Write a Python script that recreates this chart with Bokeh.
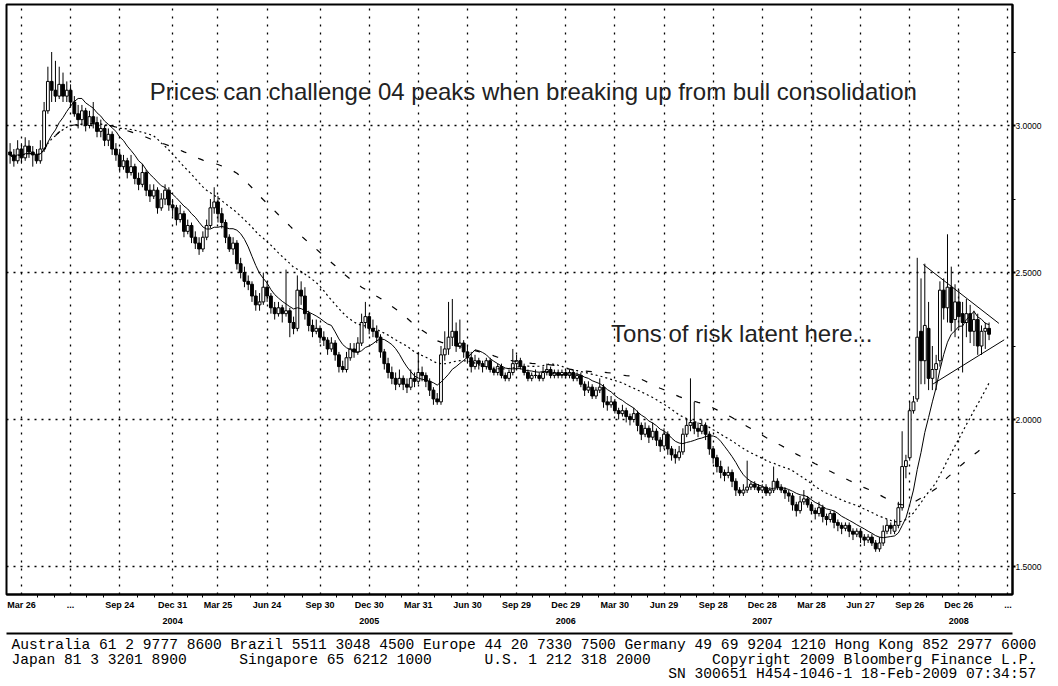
import numpy as np
import pandas as pd
from bokeh.plotting import figure
from bokeh.models import (Range1d, LinearAxis, FixedTicker, Title, Label, ColumnDataSource,
                          NumeralTickFormatter, Grid)
from bokeh.embed import file_html
from bokeh.resources import INLINE

# ---------------- data (weekly bars, week 0 = Fri 26-Mar-2004) ----------------
first_week = -3
open_ = [2.91, 2.90, 2.88, 2.92, 2.89, 2.93, 2.91, 2.90, 2.88,
         2.92, 3.05, 3.15, 3.12, 3.10, 3.14, 3.10, 3.12, 3.08, 3.04,
         3.02, 3.05, 3.00, 3.03, 3.01, 2.98, 2.99, 2.95, 2.97, 2.92,
         2.90, 2.86, 2.88, 2.84, 2.86, 2.82, 2.80, 2.84, 2.78, 2.76,
         2.78, 2.72, 2.75, 2.78, 2.73, 2.72, 2.68, 2.70, 2.64, 2.66,
         2.62, 2.60, 2.58, 2.62, 2.66, 2.72, 2.74, 2.70, 2.67, 2.62,
         2.58, 2.60, 2.53, 2.50, 2.47, 2.46, 2.42, 2.39, 2.40, 2.45,
         2.42, 2.38, 2.36, 2.38, 2.36, 2.37, 2.33, 2.31, 2.44, 2.42,
         2.36, 2.32, 2.30, 2.31, 2.28, 2.27, 2.24, 2.26, 2.22, 2.18,
         2.17, 2.21, 2.24, 2.23, 2.26, 2.33, 2.35, 2.31, 2.30, 2.28,
         2.23, 2.19, 2.16, 2.14, 2.12, 2.14, 2.12, 2.11, 2.14, 2.13,
         2.16, 2.15, 2.13, 2.10, 2.07, 2.06, 2.22, 2.24, 2.28, 2.30,
         2.25, 2.26, 2.23, 2.21, 2.18, 2.20, 2.19, 2.18, 2.20, 2.17,
         2.16, 2.18, 2.15, 2.14, 2.16, 2.19, 2.20, 2.18, 2.16, 2.14,
         2.15, 2.15, 2.14, 2.16, 2.17, 2.15, 2.16, 2.15, 2.16, 2.15,
         2.16, 2.14, 2.15, 2.12, 2.10, 2.11, 2.08, 2.10, 2.11, 2.06,
         2.05, 2.06, 2.03, 2.02, 2.03, 2.01, 2.00, 2.02, 1.98, 1.95,
         1.97, 1.94, 1.96, 1.93, 1.91, 1.95, 1.90, 1.88, 1.87, 1.89,
         1.95, 1.98, 1.99, 1.97, 1.96, 1.98, 1.95, 1.90, 1.87, 1.84,
         1.82, 1.81, 1.82, 1.79, 1.76, 1.75, 1.76, 1.77, 1.78, 1.77,
         1.76, 1.77, 1.75, 1.76, 1.79, 1.77, 1.76, 1.75, 1.74, 1.71,
         1.69, 1.72, 1.73, 1.71, 1.69, 1.68, 1.70, 1.67, 1.66, 1.68,
         1.65, 1.64, 1.63, 1.64, 1.62, 1.61, 1.62, 1.60, 1.59, 1.60,
         1.58, 1.56, 1.58, 1.62, 1.64, 1.62, 1.64, 1.70, 1.84, 1.87,
         2.03, 2.07, 2.30, 2.20, 2.31, 2.14, 2.17, 2.20, 2.44, 2.38,
         2.45, 2.34, 2.40, 2.36, 2.33, 2.36, 2.30, 2.34, 2.25, 2.30, 2.31]
high = [2.94, 2.92, 2.95, 2.94, 2.96, 2.95, 2.93, 2.92, 2.95,
        3.08, 3.20, 3.25, 3.22, 3.20, 3.18, 3.15, 3.14, 3.10, 3.07,
        3.07, 3.06, 3.05, 3.08, 3.03, 3.02, 3.00, 2.99, 2.98, 2.94,
        2.92, 2.90, 2.89, 2.90, 2.87, 2.84, 2.87, 2.85, 2.80, 2.80,
        2.79, 2.77, 2.80, 2.79, 2.75, 2.73, 2.73, 2.71, 2.68, 2.67,
        2.64, 2.62, 2.64, 2.68, 2.75, 2.79, 2.76, 2.72, 2.68, 2.63,
        2.62, 2.61, 2.55, 2.52, 2.49, 2.47, 2.44, 2.43, 2.50, 2.47,
        2.43, 2.40, 2.40, 2.39, 2.51, 2.38, 2.35, 2.49, 2.47, 2.45,
        2.37, 2.34, 2.34, 2.32, 2.30, 2.28, 2.28, 2.27, 2.23, 2.20,
        2.23, 2.26, 2.26, 2.28, 2.36, 2.40, 2.36, 2.34, 2.32, 2.29,
        2.24, 2.21, 2.18, 2.16, 2.17, 2.15, 2.14, 2.17, 2.16, 2.23,
        2.18, 2.16, 2.14, 2.11, 2.09, 2.25, 2.30, 2.40, 2.41, 2.33,
        2.34, 2.27, 2.25, 2.23, 2.22, 2.21, 2.20, 2.21, 2.21, 2.18,
        2.19, 2.19, 2.16, 2.17, 2.24, 2.22, 2.21, 2.19, 2.17, 2.16,
        2.17, 2.16, 2.18, 2.19, 2.18, 2.17, 2.17, 2.17, 2.17, 2.17,
        2.17, 2.16, 2.16, 2.13, 2.13, 2.12, 2.11, 2.14, 2.12, 2.08,
        2.08, 2.07, 2.04, 2.05, 2.04, 2.02, 2.04, 2.03, 1.99, 1.99,
        1.98, 1.99, 1.97, 1.94, 1.97, 1.96, 1.91, 1.90, 1.91, 1.97,
        2.00, 2.14, 2.06, 1.99, 2.00, 1.99, 1.96, 1.91, 1.88, 1.86,
        1.83, 1.84, 1.83, 1.80, 1.77, 1.78, 1.86, 1.79, 1.79, 1.78,
        1.78, 1.78, 1.77, 1.84, 1.80, 1.78, 1.77, 1.76, 1.75, 1.72,
        1.74, 1.76, 1.74, 1.72, 1.70, 1.72, 1.71, 1.68, 1.69, 1.69,
        1.66, 1.65, 1.65, 1.65, 1.63, 1.63, 1.63, 1.61, 1.61, 1.61,
        1.59, 1.60, 1.64, 1.66, 1.65, 1.66, 1.72, 1.96, 1.88, 2.06,
        2.08, 2.55, 2.48, 2.53, 2.40, 2.25, 2.22, 2.47, 2.48, 2.63,
        2.52, 2.46, 2.44, 2.40, 2.41, 2.39, 2.37, 2.36, 2.32, 2.33, 2.33]
low = [2.87, 2.86, 2.87, 2.87, 2.88, 2.89, 2.86, 2.87, 2.87,
       2.91, 3.04, 3.08, 3.08, 3.09, 3.08, 3.08, 3.06, 3.03, 2.99,
       3.00, 2.98, 2.99, 2.99, 2.96, 2.96, 2.93, 2.93, 2.90, 2.88,
       2.84, 2.85, 2.82, 2.83, 2.80, 2.78, 2.79, 2.76, 2.74, 2.75,
       2.70, 2.71, 2.73, 2.71, 2.69, 2.66, 2.67, 2.62, 2.63, 2.60,
       2.58, 2.56, 2.57, 2.61, 2.65, 2.70, 2.67, 2.65, 2.60, 2.57,
       2.56, 2.51, 2.48, 2.45, 2.44, 2.40, 2.37, 2.37, 2.39, 2.40,
       2.36, 2.34, 2.35, 2.33, 2.35, 2.28, 2.29, 2.30, 2.39, 2.34,
       2.30, 2.28, 2.29, 2.26, 2.25, 2.22, 2.23, 2.20, 2.16, 2.16,
       2.16, 2.20, 2.21, 2.22, 2.25, 2.31, 2.29, 2.28, 2.26, 2.21,
       2.17, 2.14, 2.12, 2.10, 2.11, 2.10, 2.09, 2.10, 2.11, 2.12,
       2.13, 2.11, 2.08, 2.05, 2.05, 2.05, 2.20, 2.22, 2.25, 2.23,
       2.24, 2.21, 2.19, 2.16, 2.17, 2.17, 2.16, 2.17, 2.16, 2.15,
       2.15, 2.14, 2.13, 2.13, 2.15, 2.17, 2.17, 2.15, 2.13, 2.13,
       2.14, 2.13, 2.13, 2.15, 2.14, 2.14, 2.14, 2.14, 2.14, 2.14,
       2.13, 2.13, 2.11, 2.08, 2.09, 2.07, 2.07, 2.09, 2.04, 2.03,
       2.04, 2.02, 2.00, 2.01, 1.99, 1.98, 1.99, 1.96, 1.93, 1.94,
       1.92, 1.93, 1.91, 1.89, 1.90, 1.88, 1.86, 1.85, 1.86, 1.88,
       1.94, 1.96, 1.95, 1.94, 1.95, 1.93, 1.88, 1.85, 1.82, 1.80,
       1.79, 1.80, 1.77, 1.74, 1.74, 1.74, 1.75, 1.76, 1.76, 1.75,
       1.75, 1.74, 1.74, 1.75, 1.76, 1.75, 1.73, 1.72, 1.69, 1.67,
       1.68, 1.71, 1.70, 1.68, 1.66, 1.67, 1.65, 1.64, 1.65, 1.63,
       1.62, 1.61, 1.62, 1.60, 1.59, 1.60, 1.58, 1.57, 1.58, 1.57,
       1.55, 1.55, 1.57, 1.61, 1.61, 1.61, 1.63, 1.69, 1.80, 1.86,
       2.02, 2.06, 2.12, 2.12, 2.10, 2.10, 2.10, 2.18, 2.34, 2.33,
       2.30, 2.28, 2.31, 2.16, 2.28, 2.26, 2.25, 2.22, 2.22, 2.24, 2.27]
close = [2.90, 2.88, 2.92, 2.89, 2.93, 2.91, 2.90, 2.88, 2.92,
         3.05, 3.15, 3.12, 3.10, 3.14, 3.10, 3.12, 3.08, 3.04, 3.02,
         3.05, 3.00, 3.03, 3.01, 2.98, 2.99, 2.95, 2.97, 2.92, 2.90,
         2.86, 2.88, 2.84, 2.86, 2.82, 2.80, 2.84, 2.78, 2.76, 2.78,
         2.72, 2.75, 2.78, 2.73, 2.72, 2.68, 2.70, 2.64, 2.66, 2.62,
         2.60, 2.58, 2.62, 2.66, 2.72, 2.74, 2.70, 2.67, 2.62, 2.58,
         2.60, 2.53, 2.50, 2.47, 2.46, 2.42, 2.39, 2.40, 2.45, 2.42,
         2.38, 2.36, 2.38, 2.36, 2.37, 2.33, 2.31, 2.44, 2.42, 2.36,
         2.32, 2.30, 2.31, 2.28, 2.27, 2.24, 2.26, 2.22, 2.18, 2.17,
         2.21, 2.24, 2.23, 2.26, 2.33, 2.35, 2.31, 2.30, 2.28, 2.23,
         2.19, 2.16, 2.14, 2.12, 2.14, 2.12, 2.11, 2.14, 2.13, 2.16,
         2.15, 2.13, 2.10, 2.07, 2.06, 2.22, 2.24, 2.28, 2.30, 2.25,
         2.26, 2.23, 2.21, 2.18, 2.20, 2.19, 2.18, 2.20, 2.17, 2.16,
         2.18, 2.15, 2.14, 2.16, 2.19, 2.20, 2.18, 2.16, 2.14, 2.15,
         2.15, 2.14, 2.16, 2.17, 2.15, 2.16, 2.15, 2.16, 2.15, 2.16,
         2.14, 2.15, 2.12, 2.10, 2.11, 2.08, 2.10, 2.11, 2.06, 2.05,
         2.06, 2.03, 2.02, 2.03, 2.01, 2.00, 2.02, 1.98, 1.95, 1.97,
         1.94, 1.96, 1.93, 1.91, 1.95, 1.90, 1.88, 1.87, 1.89, 1.95,
         1.98, 1.99, 1.97, 1.96, 1.98, 1.95, 1.90, 1.87, 1.84, 1.82,
         1.81, 1.82, 1.79, 1.76, 1.75, 1.76, 1.77, 1.78, 1.77, 1.76,
         1.77, 1.75, 1.76, 1.79, 1.77, 1.76, 1.75, 1.74, 1.71, 1.69,
         1.72, 1.73, 1.71, 1.69, 1.68, 1.70, 1.67, 1.66, 1.68, 1.65,
         1.64, 1.63, 1.64, 1.62, 1.61, 1.62, 1.60, 1.59, 1.60, 1.58,
         1.56, 1.58, 1.62, 1.64, 1.63, 1.64, 1.70, 1.84, 1.86, 2.03,
         2.06, 2.28, 2.20, 2.32, 2.14, 2.17, 2.19, 2.44, 2.38, 2.45,
         2.33, 2.40, 2.35, 2.33, 2.36, 2.30, 2.34, 2.25, 2.30, 2.31, 2.29]

ma_periods = [10, 30, 52]          # solid, dotted, dashed

quarter_weeks = [0, 13, 26, 40, 52, 65, 79, 92, 105, 118, 131, 144, 157, 170,
                 183, 196, 209, 222, 235, 248, 261]
quarter_labels = ["Mar 26", "...", "Sep 24", "Dec 31", "Mar 25", "Jun 24", "Sep 30",
                  "Dec 30", "Mar 31", "Jun 30", "Sep 29", "Dec 29", "Mar 30", "Jun 29",
                  "Sep 28", "Dec 28", "Mar 28", "Jun 27", "Sep 26", "Dec 26", "..."]
year_weeks = [40, 92, 144, 196, 248]
year_labels = ["2004", "2005", "2006", "2007", "2008"]
price_ticks = [1.5, 2.0, 2.5, 3.0]
price_minor = [1.75, 2.25, 2.75, 3.25]

# hand-drawn consolidation triangle (week, price)
upper_trend_w = [238.6, 258.6]
upper_trend_v = [2.527, 2.327]
lower_trend_w = [241.2, 260.0]
lower_trend_v = [2.121, 2.271]

note1 = "Prices can challenge 04 peaks when breaking up from bull consolidation"
note1_pos = (33.97, 3.116)
note2 = "Tons of risk latent here..."
note2_pos = (156.0, 2.2925)

NB = "\u00a0"
footer_lines = [
    "Australia 61 2 9777 8600 Brazil 5511 3048 4500 Europe 44 20 7330 7500 Germany 49 69 9204 1210 Hong Kong 852 2977 6000",
    "Japan 81 3 3201 8900" + NB * 6 + "Singapore 65 6212 1000" + NB * 6 + "U.S. 1 212 318 2000" + NB * 7
    + "Copyright 2009 Bloomberg Finance L.P.",
    NB * 75 + "SN 300651 H454-1046-1 18-Feb-2009 07:34:57",
]

# ---------------- derived ----------------
weeks = np.arange(first_week, first_week + len(close))
o = np.array(open_); c = np.array(close)
src = ColumnDataSource(dict(
    w=weeks, h=high, l=low,
    top=np.maximum(o, c), bottom=np.minimum(o, c),
    fill=["white" if cc >= oo else "black" for oo, cc in zip(o, c)],
))
ma = [pd.Series(close).rolling(n, min_periods=1).mean().values for n in ma_periods]

minor_weeks = []
for a, b in zip(quarter_weeks[:-1], quarter_weeks[1:]):
    minor_weeks += [a + (b - a) / 3.0, a + 2 * (b - a) / 3.0]

# ---------------- figure ----------------
p = figure(frame_width=1006, frame_height=590,
           x_range=Range1d(-3.95, 262.2), y_range=Range1d(1.4048, 3.4116),
           output_backend="svg", toolbar_location=None,
           x_axis_location=None, y_axis_location=None,
           min_border_left=6, min_border_top=4, min_border_right=0, min_border_bottom=0,
           background_fill_color="white", border_fill_color="white",
           outline_line_color="black", outline_line_width=2)
p.xgrid.visible = False
p.ygrid.visible = False

vg = Grid(dimension=0, ticker=FixedTicker(ticks=quarter_weeks),
          grid_line_color="black", grid_line_dash="2 6", grid_line_width=1.3)
hg = Grid(dimension=1, ticker=FixedTicker(ticks=price_ticks),
          grid_line_color="black", grid_line_dash="2 5", grid_line_width=1.3)
p.add_layout(vg, "center")
p.add_layout(hg, "center")

# candles
p.segment(x0="w", y0="l", x1="w", y1="h", source=src, line_color="black", line_width=1)
p.vbar(x="w", width=0.75, top="top", bottom="bottom", fill_color="fill",
       line_color="black", line_width=1, source=src)

# moving averages
p.line(weeks, ma[0], line_color="black", line_width=1)
p.line(weeks, ma[1], line_color="black", line_width=1.2, line_dash="2 3")
p.line(weeks, ma[2], line_color="black", line_width=1.2, line_dash="6 13")

# trend lines
p.line(upper_trend_w, upper_trend_v, line_color="black", line_width=1)
p.line(lower_trend_w, lower_trend_v, line_color="black", line_width=1)

# notes
for txt, (xx, yy) in [(note1, note1_pos), (note2, note2_pos)]:
    p.add_layout(Label(x=xx, y=yy, text=txt, text_font="Liberation Sans",
                       text_font_size="24px", text_color="#222222",
                       text_baseline="alphabetic", text_align="left"))

# right price axis
yaxis = LinearAxis(ticker=FixedTicker(ticks=price_ticks, minor_ticks=price_minor),
                   formatter=NumeralTickFormatter(format="0.0000"),
                   major_tick_out=3, major_tick_in=0, major_tick_line_width=2,
                   minor_tick_out=3, minor_tick_in=0, major_label_standoff=0,
                   axis_line_color="black", axis_line_width=2,
                   major_label_text_font="Liberation Sans", major_label_text_font_size="8.5px",
                   major_label_text_color="black")
p.add_layout(yaxis, "right")

# bottom date axis
xaxis = LinearAxis(ticker=FixedTicker(ticks=quarter_weeks, minor_ticks=minor_weeks),
                   major_label_overrides={w: l for w, l in zip(quarter_weeks, quarter_labels)},
                   major_tick_out=0, major_tick_in=0, minor_tick_out=3, minor_tick_in=0,
                   major_label_standoff=2, axis_line_color="black", axis_line_width=2,
                   major_label_text_font="Liberation Sans", major_label_text_font_style="bold",
                   major_label_text_font_size="9px", major_label_text_color="black")
p.add_layout(xaxis, "below")

yearaxis = LinearAxis(ticker=FixedTicker(ticks=year_weeks),
                      major_label_overrides={w: l for w, l in zip(year_weeks, year_labels)},
                      major_tick_out=0, major_tick_in=0, minor_tick_line_color=None,
                      major_label_standoff=5, axis_line_color=None,
                      axis_label=" ", axis_label_text_font_size="3px", axis_label_standoff=1,
                      major_label_text_font="Liberation Sans", major_label_text_font_style="bold",
                      major_label_text_font_size="9px", major_label_text_color="black")
p.add_layout(yearaxis, "below")

lineaxis = LinearAxis(ticker=FixedTicker(ticks=[]), major_tick_out=0, major_tick_in=0,
                      minor_tick_line_color=None, major_label_text_font_size="0px",
                      major_label_standoff=0, axis_line_color="black", axis_line_width=2)
p.add_layout(lineaxis, "below")

footer = Title(text="\n".join(footer_lines), align="left", offset=5,
               text_font="Liberation Mono", text_font_size="14.6px",
               text_font_style="normal", text_color="black", text_line_height=0.92,
               standoff=4)
p.add_layout(footer, "below")

open("out.html", "w").write(file_html(p, INLINE))
